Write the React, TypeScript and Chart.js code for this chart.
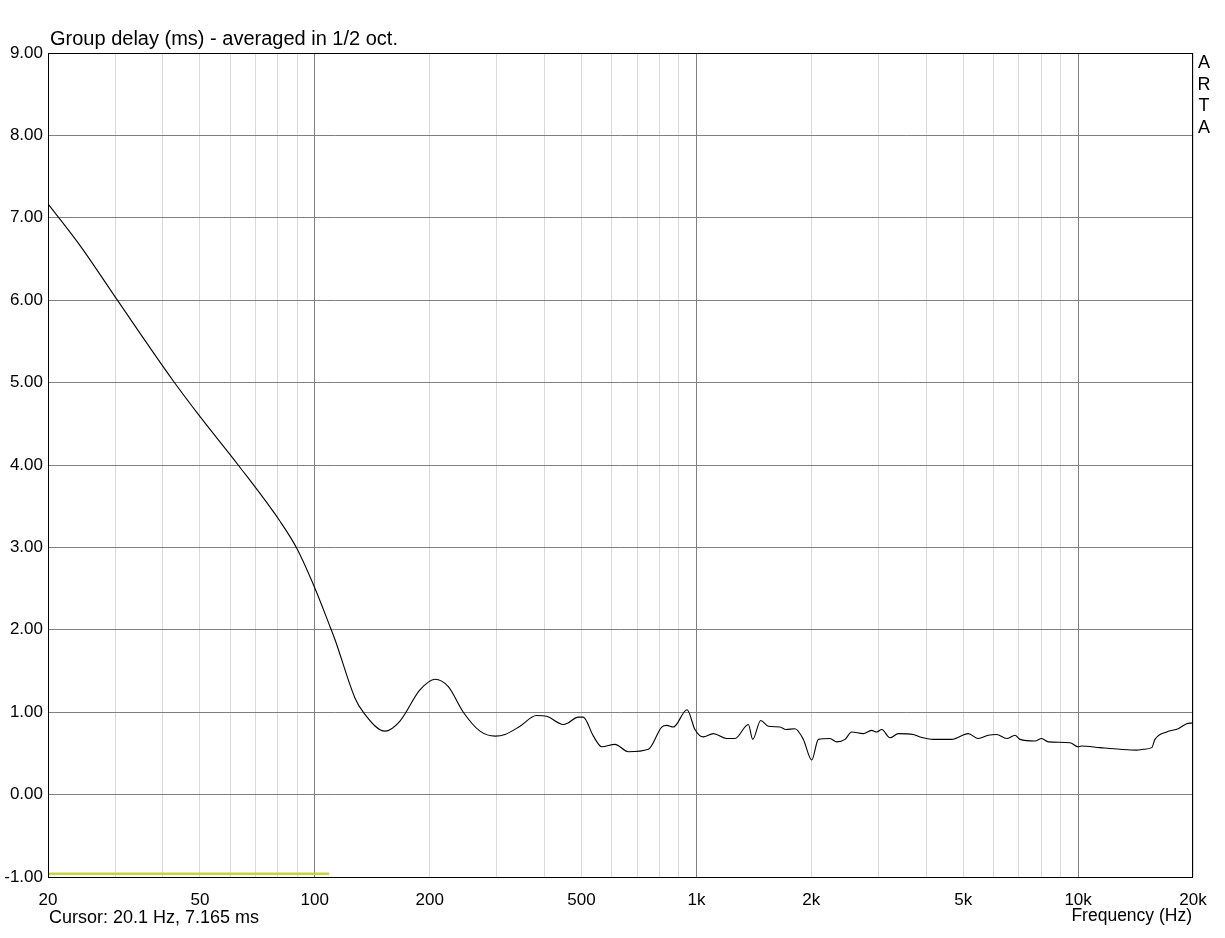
import React, { useEffect, useRef } from "react";
import { Chart, registerables } from "chart.js";

Chart.register(...registerables);

// Group delay curve (frequency in Hz, delay in ms)
const freqsHz = [
  20, 24.3, 30.3, 42.6, 50, 63, 81, 89.7, 100.4, 109.6, 113, 127.5, 134, 152.8, 167, 188.6, 206.5, 223.8,
  245, 271, 297, 315, 345, 381, 405, 448, 461, 490, 505, 537, 565, 612, 663, 748, 811, 836, 870, 945,
  991, 1042, 1107, 1200, 1262, 1368, 1404, 1474, 1543, 1655, 1716, 1812, 1906, 2005, 2087, 2238, 2331,
  2451, 2551, 2736, 2877, 2966, 3058, 3215, 3380, 3700, 3852, 4175, 4664, 5156, 5475, 5816, 6118, 6500,
  6832, 7044, 7710, 8026, 8355, 9525, 10000, 10200, 11410, 12880, 14240, 14820, 15590, 15900, 17060,
  18300, 19250, 20000,
];
const groupDelayMs = [
  7.17, 6.66, 6.01, 5.02, 4.59, 4.0, 3.32, 2.99, 2.49, 2.04, 1.88, 1.17, 1.0, 0.77, 0.89, 1.27, 1.4, 1.31,
  1.0, 0.77, 0.71, 0.73, 0.83, 0.96, 0.95, 0.85, 0.87, 0.94, 0.94, 0.71, 0.58, 0.61, 0.52, 0.55, 0.82, 0.84, 0.82, 1.03,
  0.79, 0.7, 0.74, 0.68, 0.68, 0.85, 0.67, 0.9, 0.83, 0.82, 0.79, 0.8, 0.67, 0.42, 0.67, 0.68, 0.64,
  0.67, 0.76, 0.74, 0.78, 0.76, 0.79, 0.69, 0.74, 0.73, 0.7, 0.67, 0.67, 0.74, 0.68, 0.72, 0.73, 0.68,
  0.72, 0.67, 0.65, 0.68, 0.64, 0.63, 0.58, 0.59, 0.57, 0.55, 0.54, 0.55, 0.57, 0.67, 0.76,
  0.8, 0.86, 0.87,
];

// Yellow marker line at the bottom
const markerFreqsHz = [20, 109];
const markerDelayMs = [-0.96, -0.96];

// Axis ticks
const xGridValues = [
  20, 30, 40, 50, 60, 70, 80, 90, 100, 200, 300, 400, 500, 600, 700, 800, 900, 1000,
  2000, 3000, 4000, 5000, 6000, 7000, 8000, 9000, 10000, 20000,
];
const xMajorGrid = [100, 1000, 10000];
const xLabeledValues = [20, 50, 100, 200, 500, 1000, 2000, 5000, 10000, 20000];
const xLabelTexts = ["20", "50", "100", "200", "500", "1k", "2k", "5k", "10k", "20k"];
const yTickValues = [-1, 0, 1, 2, 3, 4, 5, 6, 7, 8, 9];

const titleText = "Group delay (ms) - averaged in 1/2 oct.";
const cursorText = "Cursor: 20.1 Hz, 7.165 ms";
const xAxisTitle = "Frequency (Hz)";
const brandLetters = ["A", "R", "T", "A"];

const FONT = "'Liberation Sans', Arial, sans-serif";

export default function App() {
  const canvasRef = useRef<HTMLCanvasElement | null>(null);

  useEffect(() => {
    document.body.style.margin = "0";
    document.body.style.overflow = "hidden";
    const canvas = canvasRef.current;
    if (!canvas) return;

    const overlay = {
      id: "overlay",
      afterDraw(chart: any) {
        const { ctx, chartArea } = chart;
        const { left, top, right, bottom } = chartArea;
        ctx.save();
        ctx.strokeStyle = "#000";
        ctx.lineWidth = 1;
        ctx.strokeRect(left + 0.5, top + 0.5, right - left - 1, bottom - top);
        ctx.fillStyle = "#000";
        ctx.textBaseline = "alphabetic";
        ctx.font = `20px ${FONT}`;
        ctx.textAlign = "left";
        ctx.fillText(titleText, 50, 45);
        ctx.font = `18px ${FONT}`;
        ctx.fillText(cursorText, 49, 923);
        ctx.font = `17.5px ${FONT}`;
        ctx.textAlign = "right";
        ctx.fillText(xAxisTitle, 1192, 921);
        ctx.font = `18px ${FONT}`;
        ctx.textAlign = "center";
        brandLetters.forEach((l, i) => ctx.fillText(l, 1204, 68 + i * 21.7));
        ctx.restore();
      },
    };

    const chart = new Chart(canvas, {
      type: "line",
      data: {
        datasets: [
          {
            data: freqsHz.map((f, i) => ({ x: f, y: groupDelayMs[i] })),
            borderColor: "#000",
            borderWidth: 1.1,
            pointRadius: 0,
            cubicInterpolationMode: "monotone",
            fill: false,
          },
          {
            data: markerFreqsHz.map((f, i) => ({ x: f, y: markerDelayMs[i] })),
            borderColor: "#c9d43c",
            borderWidth: 2.5,
            pointRadius: 0,
            fill: false,
          },
        ],
      },
      options: {
        responsive: false,
        animation: false,
        layout: { padding: { left: 0, right: 32, top: 53, bottom: 0 } },
        plugins: { legend: { display: false }, tooltip: { enabled: false }, title: { display: false } },
        scales: {
          x: {
            type: "logarithmic",
            min: 20,
            max: 20000,
            afterBuildTicks: (scale: any) => {
              scale.ticks = xGridValues.map((v) => ({ value: v }));
            },
            afterFit: (scale: any) => {
              scale.height = 61;
            },
            border: { display: false },
            grid: {
              drawTicks: false,
              color: (ctx: any) => (xMajorGrid.includes(ctx.tick?.value) ? "#808080" : "#d9d9d9"),
              lineWidth: 1,
            },
            ticks: {
              autoSkip: false,
              maxRotation: 0,
              minRotation: 0,
              padding: 13,
              color: "#000",
              font: { family: FONT, size: 17 },
              callback: (value: any) => {
                const i = xLabeledValues.indexOf(Number(value));
                return i >= 0 ? xLabelTexts[i] : "";
              },
            },
          },
          y: {
            type: "linear",
            min: -1,
            max: 9,
            afterBuildTicks: (scale: any) => {
              scale.ticks = yTickValues.map((v) => ({ value: v }));
            },
            afterFit: (scale: any) => {
              scale.width = 48;
            },
            border: { display: false },
            grid: { drawTicks: false, color: "#808080", lineWidth: 1 },
            ticks: {
              padding: 5,
              color: "#000",
              font: { family: FONT, size: 17 },
              callback: (value: any) => Number(value).toFixed(2),
            },
          },
        },
      },
      plugins: [overlay],
    } as any);

    return () => chart.destroy();
  }, []);

  return (
    <div style={{ width: 1225, height: 938, background: "#fff" }}>
      <canvas ref={canvasRef} width={1225} height={938} style={{ display: "block" }} />
    </div>
  );
}
